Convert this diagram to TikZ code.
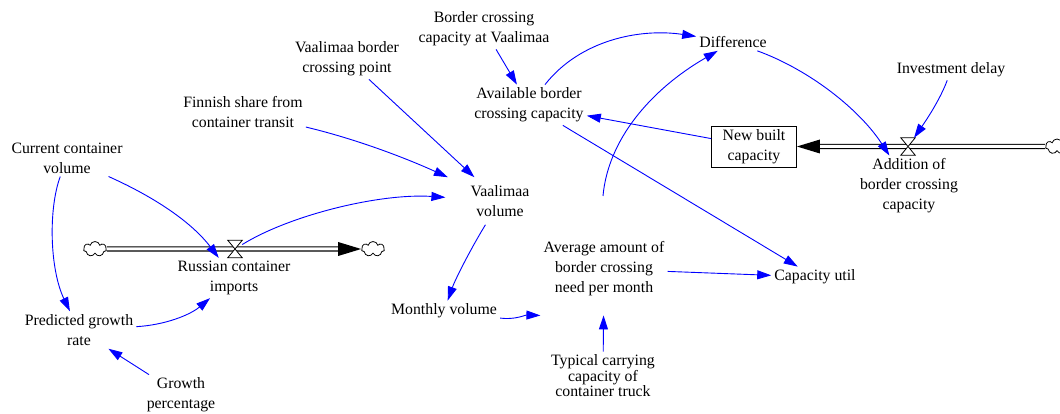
\documentclass[tikz,border=0pt]{standalone}
\usepackage{fontspec}
\setmainfont{Liberation Serif}
\usetikzlibrary{arrows.meta,shapes.symbols}
\definecolor{linkblue}{RGB}{0,0,255}
\begin{document}
\begin{tikzpicture}[x=1pt,y=-1pt,
  var/.style={align=center, inner sep=3pt, font=\fontsize{15.8}{20}\selectfont},
  ca/.style={draw=linkblue, line width=0.9pt, -{Triangle[length=14pt,width=9pt]}, fill=none},
  pipe/.style={draw=black, double=white, double distance=3pt, line width=1.1pt},
  valve/.style={minimum width=14pt, minimum height=17pt, inner sep=0pt},
  valvedraw/.style={draw=black, fill=white, line width=0.8pt},
  src/.style={cloud, cloud puffs=7, cloud ignores aspect, draw, line width=0.8pt, fill=white, minimum width=23pt, minimum height=15pt, inner sep=0pt},
  stock/.style={draw, line width=0.9pt, align=center, font=\fontsize{15.8}{20}\selectfont, minimum width=85pt, minimum height=41pt, inner sep=2pt},
  flowtip/.style={fill=black}
]
\useasboundingbox (0,0) rectangle (1060,414);

% variables
\node[var] (bcc) at (484,29) {Border crossing\\capacity at Vaalimaa};
\node[var] (vbcp) at (347,59) {Vaalimaa border\\crossing point};
\node[var] (diff) at (733,42) {Difference};
\node[var] (invd) at (951,70) {Investment delay};
\node[var] (avail) at (529,105) {Available border\\crossing capacity};
\node[var] (fin) at (243,112) {Finnish share from\\container transit};
\node[stock] (nbc) at (754,146.5) {New built\\capacity};
\node[var] (add) at (909,186) {Addition of\\border crossing\\capacity};
\node[var] (ccv) at (67,158) {Current container\\volume};
\node[var, inner xsep=25pt, inner ysep=8pt] (vvol) at (500,201) {Vaalimaa\\volume};
\node[var, inner ysep=19pt] (avg) at (604,269) {Average amount of\\border crossing\\need per month};
\node[var] (rci) at (234,278) {Russian container\\imports};
\node[var] (cu) at (815,277) {Capacity util};
\node[var] (pgr) at (79,330) {Predicted growth\\rate};
\node[var] (mv) at (444,311) {Monthly volume};
\node[var, font=\fontsize{15.8}{15.5}\selectfont] (tcc) at (603,376) {Typical carrying\\capacity of\\container truck};
\node[var] (gp) at (181,395) {Growth\\percentage};
\coordinate (avgtop) at (603,196);

% flow: Russian container imports
\node[src] (c1) at (95,249) {};
\node[src] (c2) at (373,249) {};
\node[valve] (v1) at (235,249) {};
\draw[pipe, shorten >=21pt] (c1) -- (c2);
\fill[flowtip] (c2.west) -- ++(-23,-7) -- ++(0,14) -- cycle;
\draw[valvedraw] (v1.north west) -- (v1.north east) -- (v1.south west) -- (v1.south east) -- cycle;

% flow: Addition of border crossing capacity
\node[src] (c3) at (1057,146.5) {};
\node[valve] (v2) at (908,146.5) {};
\draw[pipe, shorten >=21pt] (c3) -- (nbc);
\fill[flowtip] (nbc.east) -- ++(23,-7) -- ++(0,14) -- cycle;
\draw[valvedraw] (v2.north west) -- (v2.north east) -- (v2.south west) -- (v2.south east) -- cycle;

% causal links
\draw[ca] (bcc) -- (avail);
\draw[ca] (avail) .. controls (580,40) and (640,28) .. (diff);
\draw[ca] (avgtop) .. controls (608,140) and (650,90) .. (diff);
\draw[ca] (diff) .. controls (810,70) and (860,110) .. (add);
\draw[ca] (invd) .. controls (940,100) and (925,122) .. (v2);
\draw[ca] (nbc) -- (avail);
\draw[ca] (avail) -- (cu);
\draw[ca] (vbcp) -- (vvol);
\draw[ca] (fin) .. controls (360,140) and (410,160) .. (vvol);
\draw[ca] (v1) .. controls (290,215) and (380,193) .. (vvol);
\draw[ca] (ccv) .. controls (150,195) and (190,220) .. (rci);
\draw[ca] (ccv) .. controls (48,210) and (50,270) .. (pgr);
\draw[ca] (pgr) .. controls (165,325) and (190,315) .. (rci);
\draw[ca] (gp) -- (pgr);
\draw[ca] (vvol) .. controls (470,250) and (455,280) .. (mv);
\draw[ca] (mv) .. controls (515,320) and (525,315) .. (avg.south west);
\draw[ca] (avg) -- (cu);
\draw[ca] (tcc) -- (avg);
\end{tikzpicture}
\end{document}
